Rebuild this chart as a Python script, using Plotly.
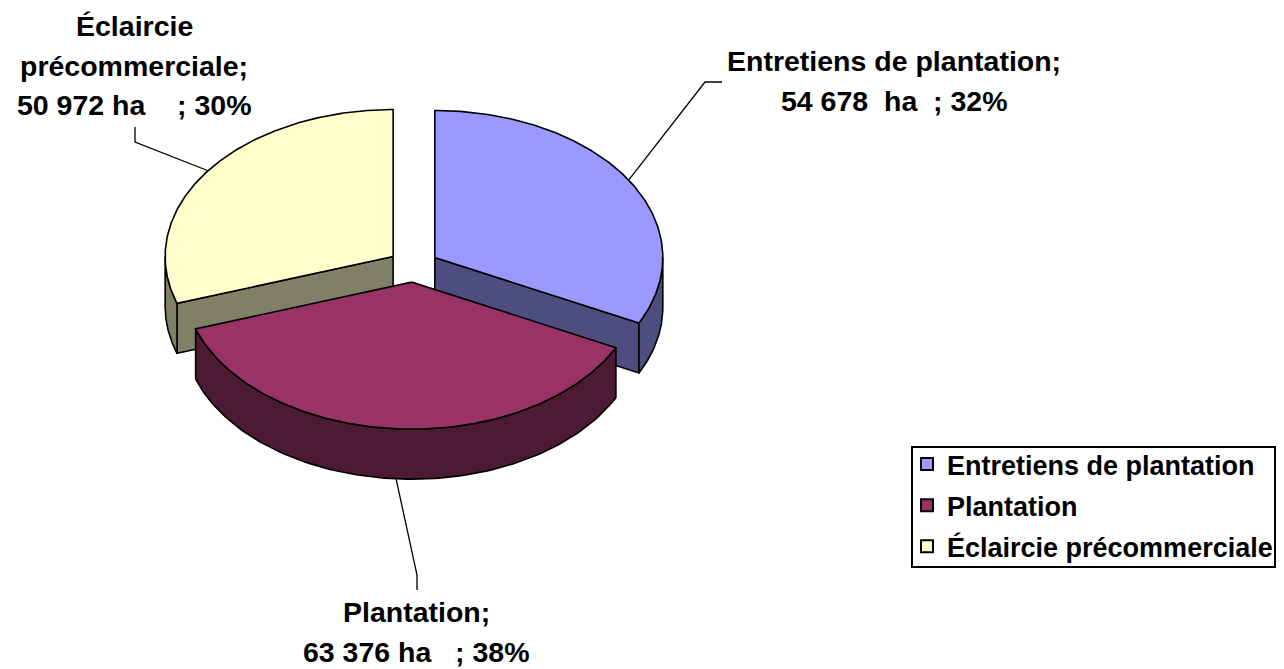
import numpy as np
import plotly.graph_objects as go

categories = ["Entretiens de plantation", "Plantation", "Éclaircie précommerciale"]
values = [54678, 63376, 50972]
top_colors = ["#9999FF", "#993366", "#FFFFCC"]
wall_colors = ["#4D4D80", "#4D1A33", "#808066"]
label_lines = [
    ["Entretiens de plantation;", "54 678\u00a0\u00a0ha\u00a0 ; 32%"],
    ["Plantation;", "63 376 ha\u00a0\u00a0 ; 38%"],
    ["Éclaircie", "précommerciale;", "50 972 ha\u00a0\u00a0\u00a0 ; 30%"],
]
draw_order = [2, 0, 1]

W, H = 1284, 669
CX, CY, RX, RY = 413.5, 266, 228, 147
DEPTH, EXPLODE = 50, 0.11
FONT = "Liberation Sans, Arial, sans-serif"
FS = 28.5
LEGEND_FS = 27
LINE_GAP = 39.5
label_anchor = [(894, 61), (416, 612), (134, 26)]
leader_mid = [[(705, 82), (722, 82)], [(417, 575), (417, 590)], [(135, 142), (135, 127)]]

total = sum(values)
angles = np.cumsum([0] + [v / total * 2 * np.pi for v in values])


def pt(a, ox, oy, dz=0.0):
    return ox + RX * np.sin(a), oy - RY * np.cos(a) + dz


fig = go.Figure()


def poly(xs, ys, fill):
    fig.add_trace(go.Scatter(x=list(xs), y=list(ys), mode="lines", fill="toself", fillcolor=fill,
                             line=dict(color="black", width=1.6), hoverinfo="skip", showlegend=False))


leaders = {}
for i in draw_order:
    a0, a1 = angles[i], angles[i + 1]
    mid = (a0 + a1) / 2
    ox = CX + EXPLODE * RX * np.sin(mid)
    oy = CY - EXPLODE * RY * np.cos(mid)
    for a, normal in ((a0, a0 - np.pi / 2), (a1, a1 + np.pi / 2)):
        if np.cos(normal) < -1e-6:
            ex, ey = pt(a, ox, oy)
            poly([ox, ex, ex, ox, ox], [oy, ey, ey + DEPTH, oy + DEPTH, oy], wall_colors[i])
    lo, hi = max(a0, np.pi / 2), min(a1, 3 * np.pi / 2)
    if hi > lo:
        t = np.linspace(lo, hi, 120)
        x1, y1 = pt(t, ox, oy)
        x2, y2 = pt(t[::-1], ox, oy, DEPTH)
        poly(np.r_[x1, x2, x1[0]], np.r_[y1, y2, y1[0]], wall_colors[i])
    t = np.linspace(a0, a1, 200)
    xt, yt = pt(t, ox, oy)
    poly(np.r_[ox, xt, ox], np.r_[oy, yt, oy], top_colors[i])
    sx, sy = pt(mid, ox, oy, DEPTH if np.cos(mid) < 0 and i == 1 else 0)
    leaders[i] = (sx, sy)

for i in range(3):
    sx, sy = leaders[i]
    xs = [sx] + [p[0] for p in leader_mid[i]]
    ys = [sy] + [p[1] for p in leader_mid[i]]
    fig.add_trace(go.Scatter(x=xs, y=ys, mode="lines", line=dict(color="black", width=1.3),
                             hoverinfo="skip", showlegend=False))

for i, c in enumerate(categories):
    fig.add_trace(go.Scatter(x=[None], y=[None], mode="markers", name=c, legendgroup=c,
                             marker=dict(symbol="square", size=15, color=top_colors[i],
                                         line=dict(color="black", width=1.6))))

ann = []
for i, lines in enumerate(label_lines):
    ax, ay = label_anchor[i]
    for j, txt in enumerate(lines):
        ann.append(dict(x=ax, y=ay + j * LINE_GAP, xref="x", yref="y", text=txt, showarrow=False,
                        xanchor="center", yanchor="middle",
                        font=dict(family=FONT, size=FS, color="black", weight=700)))

fig.update_layout(
    width=W, height=H, margin=dict(l=0, r=0, t=0, b=0),
    paper_bgcolor="white", plot_bgcolor="white",
    xaxis=dict(range=[0, W], visible=False, fixedrange=True),
    yaxis=dict(range=[H, 0], visible=False, fixedrange=True),
    annotations=ann,
    shapes=[dict(type="rect", xref="x", yref="y", x0=912, x1=1275, y0=447, y1=567,
                 line=dict(color="black", width=2), fillcolor="white", layer="below")],
    legend=dict(x=907 / W, y=1 - 440 / H, xanchor="left", yanchor="top",
                borderwidth=0, bgcolor="rgba(0,0,0,0)",
                tracegroupgap=3, itemsizing="constant",
                font=dict(family=FONT, size=LEGEND_FS, color="black", weight=700)),
)
fig.write_html("out.html", post_script="document.body.style.margin='0';",
               config=dict(displayModeBar=False))
